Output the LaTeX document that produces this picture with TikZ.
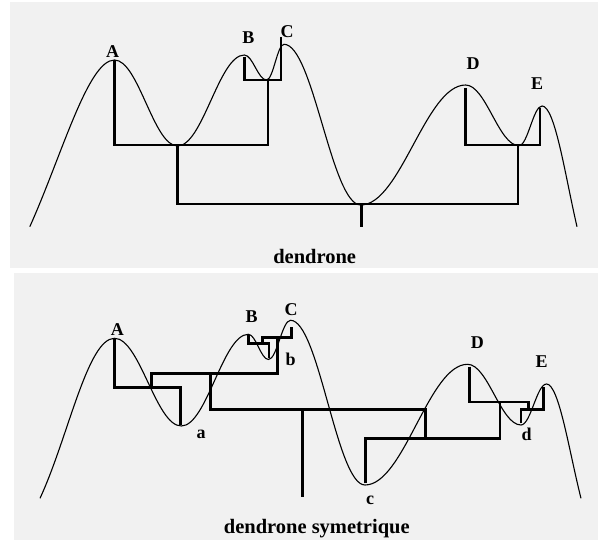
\documentclass[tikz,border=0pt]{standalone}
\usepackage{fontspec}
\setmainfont{Liberation Serif}
\definecolor{panelgray}{RGB}{241,241,241}
\tikzset{
  curveline/.style={line width=1.1pt, black},
  denline/.style={line width=2.8pt, black, line join=miter},
  lab/.style={font=\fontsize{18}{20}\selectfont\bfseries, inner sep=0pt},
  ttl/.style={font=\fontsize{20.5}{24}\selectfont\bfseries, inner sep=0pt},
}
\begin{document}
\begin{tikzpicture}[x=1pt,y=-1pt]
\useasboundingbox (0,0) rectangle (598,540);
% panels
\fill[panelgray] (10,2) rectangle (598,268);
\fill[panelgray] (14,273) rectangle (598,540);

% ---------- top: dendrone ----------
\draw[curveline] (29.8,226.7) .. controls (62,155) and (88,60) .. (114.5,60)
  .. controls (138.4,60) and (153.6,146) .. (177.5,146)
  .. controls (202.9,146) and (218.9,55) .. (244.3,55)
  .. controls (252.7,55) and (258.1,80) .. (266.5,80)
  .. controls (273.2,80) and (277.3,44.3) .. (284,44.3)
  .. controls (313.1,44.3) and (331.6,205) .. (360.7,205)
  .. controls (400.6,205) and (425.7,85) .. (465.6,85)
  .. controls (485.9,85) and (498.7,145.7) .. (519,145.7)
  .. controls (527.7,145.7) and (533.3,106) .. (542,106)
  .. controls (555,106) and (565,175) .. (577,226.7);

\draw[denline] (114.5,60) -- (114.5,145) -- (268,145) -- (268,80);
\draw[denline] (244.3,57) -- (244.3,80) -- (281,80) -- (281,37.3);
\draw[denline] (177.5,145) -- (177.5,204) -- (518,204) -- (518,145);
\draw[denline] (465.6,88) -- (465.6,145) -- (540,145) -- (540,108);
\draw[denline] (361.8,204) -- (361.8,226.7);

\node[lab] (tA) at (112.6,51.7) {A};
\node[lab] (tB) at (248.3,37.5) {B};
\node[lab] (tC) at (287,31.7) {C};
\node[lab] (tD) at (473,63.3) {D};
\node[lab] (tE) at (537,83.3) {E};
\node[ttl] (ttop) at (314.7,256.3) {dendrone};

% ---------- bottom: dendrone symetrique ----------
\draw[curveline] (40,498.3) .. controls (68,438) and (87.5,338.3) .. (114.5,338.3)
  .. controls (139.9,338.3) and (155.9,426) .. (181.3,426)
  .. controls (206.8,426) and (222.8,334.3) .. (248.3,334.3)
  .. controls (256,334.3) and (260.8,359.5) .. (268.5,359.5)
  .. controls (276.9,359.5) and (282.1,320.3) .. (290.5,320.3)
  .. controls (318.8,320.3) and (336.7,485) .. (365,485)
  .. controls (404,485) and (428.6,364.3) .. (467.6,364.3)
  .. controls (487.9,364.3) and (500.7,425) .. (521,425)
  .. controls (530.7,425) and (536.8,384) .. (546.5,384)
  .. controls (559,384) and (569,451) .. (581,498.3);

\draw[denline] (114.5,338.3) -- (114.5,387.7) -- (180.7,387.7) -- (180.7,425);
\draw[denline] (151.7,387.7) -- (151.7,373.3) -- (277.7,373.3) -- (277.7,337.7);
\draw[denline] (248.3,335) -- (248.3,343.3) -- (269,343.3) -- (269,358.5);
\draw[denline] (262.7,343.3) -- (262.7,337.7) -- (291.7,337.7) -- (291.7,327);
\draw[denline] (210.7,373.3) -- (210.7,409.3) -- (425.6,409.3) -- (425.6,438.3);
\draw[denline] (302.7,409.3) -- (302.7,497.3);
\draw[denline] (365.6,483.3) -- (365.6,438.3) -- (500,438.3) -- (500,402);
\draw[denline] (469.5,366.7) -- (469.5,402) -- (528.5,402) -- (528.5,409.3);
\draw[denline] (521,423.5) -- (521,409.3) -- (543.5,409.3) -- (543.5,387);

\node[lab] (bA) at (117.3,329.3) {A};
\node[lab] (bB) at (251.7,316.7) {B};
\node[lab] (bC) at (291,310) {C};
\node[lab] (bb) at (290.7,359.5) {b};
\node[lab] (ba) at (201,434.7) {a};
\node[lab] (bc) at (370,500.5) {c};
\node[lab] (bD) at (477.3,342.7) {D};
\node[lab] (bE) at (541.7,362) {E};
\node[lab] (bd) at (526.7,434.2) {d};
\node[ttl] (tbot) at (316.8,528.3) {dendrone symetrique};
\end{tikzpicture}
\end{document}
